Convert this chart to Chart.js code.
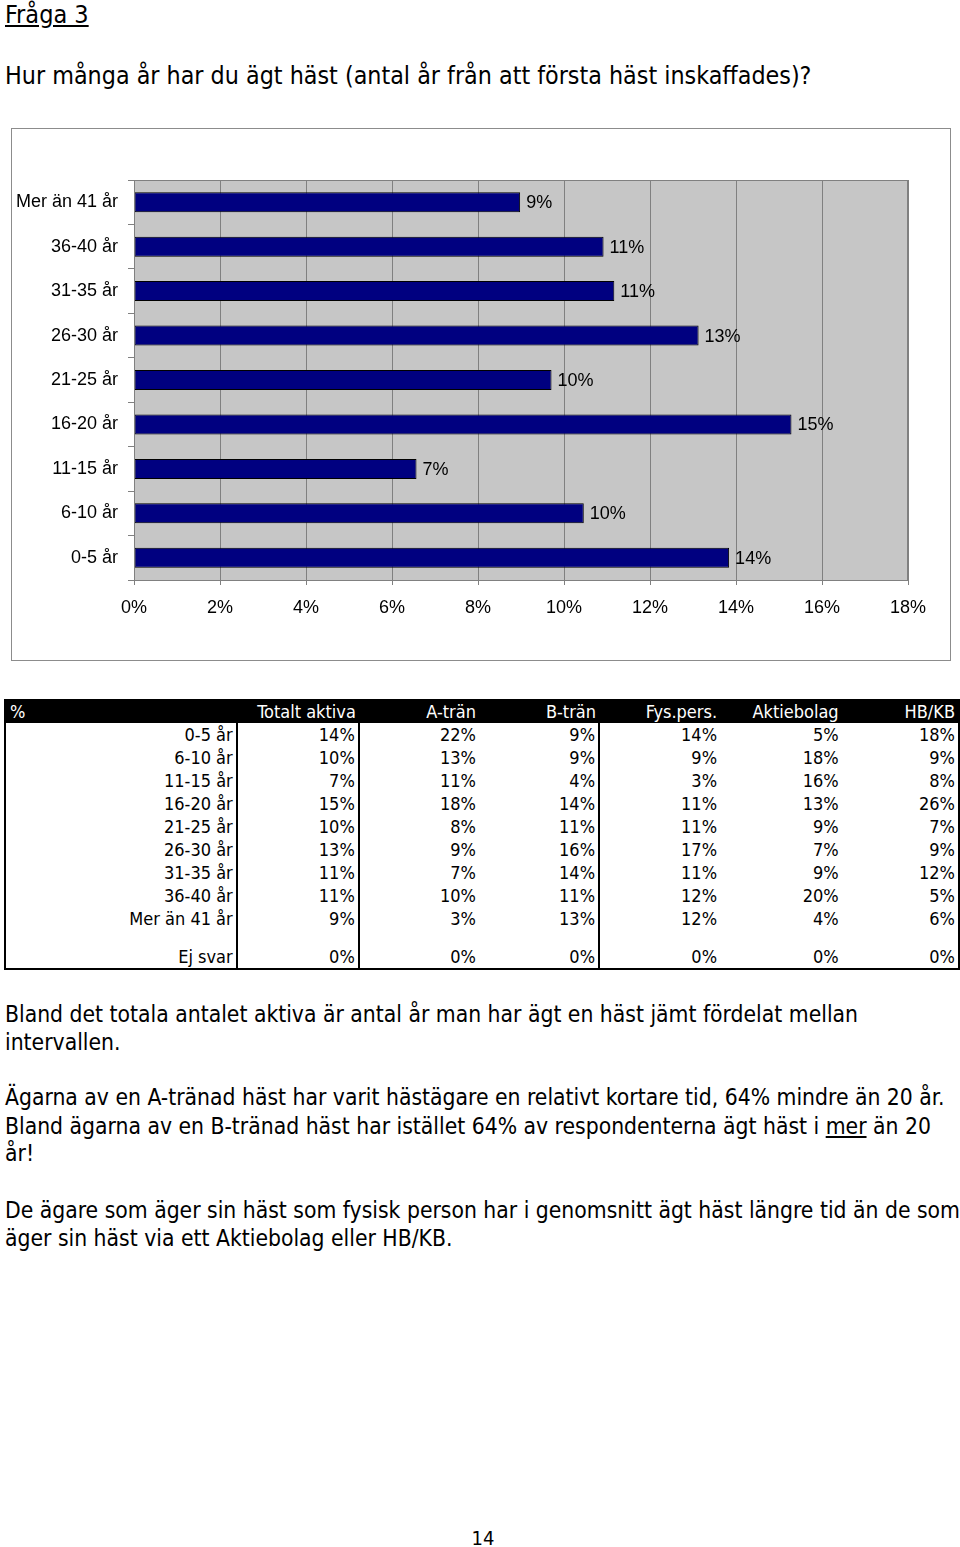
<!DOCTYPE html>
<html>
<head>
<meta charset="utf-8">
<script src="https://cdn.jsdelivr.net/npm/chart.js@4"></script>
<style>
    body { margin: 0; background: #fff; width: 960px; height: 1547px; position: relative; overflow: hidden;
           font-family: "DejaVu Sans Condensed", "DejaVu Sans", sans-serif; font-stretch: condensed; color: #000; }
    .line { position: absolute; left: 5px; white-space: nowrap; line-height: 28px; }
    .title { top: 1px; font-size: 25px; text-decoration: underline; }
    .question { top: 62px; font-size: 24.8px; }
    .para { font-size: 22.7px; }
    #chartBox { position: absolute; left: 11px; top: 128px; width: 940px; height: 533px;
                border: 1px solid #8c8c8c; box-sizing: border-box; }
    #dataTable { position: absolute; left: 4px; top: 699px; border-collapse: collapse; font-size: 18px;
                 border: 2px solid #000; }
    #dataTable td { padding: 0 3px 0 0; text-align: right; height: 23px; line-height: 23px; white-space: nowrap; }
    #dataTable tr.head td { background: #000; color: #fff; height: 22px; line-height: 22px; }
    #dataTable tr.head td.first { text-align: left; padding-left: 4px; }
    #dataTable tr.gap td { height: 15px; line-height: 15px; }
    #dataTable td.sep { border-right: 2px solid #000; }
    .pageno { position: absolute; top: 1524px; left: 443px; width: 80px; text-align: center;
              font-size: 20px; line-height: 28px; }
</style>
</head>
<body>
<div class="line title">Fråga 3</div>
<div class="line question">Hur många år har du ägt häst (antal år från att första häst inskaffades)?</div>

<div id="chartBox"><canvas id="ageChart"></canvas></div>

<table id="dataTable"></table>

<div class="line para" style="top:1000px">Bland det totala antalet aktiva är antal år man har ägt en häst jämt fördelat mellan</div>
<div class="line para" style="top:1028px">intervallen.</div>
<div class="line para" style="top:1083px">Ägarna av en A-tränad häst har varit hästägare en relativt kortare tid, 64% mindre än 20 år.</div>
<div class="line para" style="top:1112px">Bland ägarna av en B-tränad häst har istället 64% av respondenterna ägt häst i <u>mer</u> än 20</div>
<div class="line para" style="top:1139px">år!</div>
<div class="line para" style="top:1196px">De ägare som äger sin häst som fysisk person har i genomsnitt ägt häst längre tid än de som</div>
<div class="line para" style="top:1224px">äger sin häst via ett Aktiebolag eller HB/KB.</div>

<div class="pageno">14</div>

<script>
// Chart data (Totalt aktiva)
const categories = ['0-5 år', '6-10 år', '11-15 år', '16-20 år', '21-25 år', '26-30 år', '31-35 år', '36-40 år', 'Mer än 41 år'];
const totaltAktiva = [13.84, 10.46, 6.57, 15.29, 9.71, 13.13, 11.17, 10.92, 8.98];
const xTicks = [0, 2, 4, 6, 8, 10, 12, 14, 16, 18];

// Table data
const tableHeaders = ['%', 'Totalt aktiva', 'A-trän', 'B-trän', 'Fys.pers.', 'Aktiebolag', 'HB/KB'];
const tableRows = ['0-5 år', '6-10 år', '11-15 år', '16-20 år', '21-25 år', '26-30 år', '31-35 år', '36-40 år', 'Mer än 41 år', 'Ej svar'];
const colTotalt = [14, 10, 7, 15, 10, 13, 11, 11, 9, 0];
const colATran = [22, 13, 11, 18, 8, 9, 7, 10, 3, 0];
const colBTran = [9, 9, 4, 14, 11, 16, 14, 11, 13, 0];
const colFysPers = [14, 9, 3, 11, 11, 17, 11, 12, 12, 0];
const colAktiebolag = [5, 18, 16, 13, 9, 7, 9, 20, 4, 0];
const colHBKB = [18, 9, 8, 26, 7, 9, 12, 5, 6, 0];

document.addEventListener('DOMContentLoaded', function() {
    // Build the table
    const table = document.getElementById('dataTable');
    const widths = [233, 120, 120, 120, 120, 120, 116];
    const sepCols = [0, 1, 3];
    let html = '<tr class="head">';
    tableHeaders.forEach(function(h, i) {
        html += '<td' + (i === 0 ? ' class="first"' : '') + ' style="width:' + (widths[i] - (i === 0 ? 4 : 0)) + 'px">' + h + '</td>';
    });
    html += '</tr>';
    const cols = [colTotalt, colATran, colBTran, colFysPers, colAktiebolag, colHBKB];
    tableRows.forEach(function(label, r) {
        if (label === 'Ej svar') {
            html += '<tr class="gap">';
            for (let c = 0; c < 7; c++) html += '<td' + (sepCols.indexOf(c) >= 0 ? ' class="sep"' : '') + '></td>';
            html += '</tr>';
        }
        html += '<tr><td class="sep">' + label + '</td>';
        cols.forEach(function(col, c) {
            html += '<td' + (sepCols.indexOf(c + 1) >= 0 ? ' class="sep"' : '') + '>' + col[r] + '%</td>';
        });
        html += '</tr>';
    });
    table.innerHTML = html;

    // Plot background + frame
    const plotFrame = {
        id: 'plotFrame',
        beforeDraw: function(chart) {
            const a = chart.chartArea;
            const ctx = chart.ctx;
            ctx.save();
            ctx.fillStyle = '#c6c6c6';
            ctx.fillRect(a.left, a.top, a.right - a.left, a.bottom - a.top);
            ctx.restore();
        },
        afterDraw: function(chart) {
            const a = chart.chartArea;
            const ctx = chart.ctx;
            ctx.save();
            ctx.strokeStyle = '#808080';
            ctx.lineWidth = 1;
            ctx.strokeRect(a.left + 0.5, a.top + 0.5, a.right - a.left - 1, a.bottom - a.top);
            ctx.restore();
        }
    };

    // Value labels to the right of bars
    const valueLabels = {
        id: 'valueLabels',
        afterDatasetsDraw: function(chart) {
            const ctx = chart.ctx;
            const meta = chart.getDatasetMeta(0);
            ctx.save();
            ctx.font = '18px "Liberation Sans", Arial, sans-serif';
            ctx.fillStyle = '#000';
            ctx.textBaseline = 'middle';
            ctx.textAlign = 'left';
            meta.data.forEach(function(bar, i) {
                ctx.fillText(Math.round(totaltAktiva[i]) + '%', bar.x + 6, bar.y + 1);
            });
            ctx.restore();
        }
    };

    const ctx = document.getElementById('ageChart').getContext('2d');
    const ageChart = new Chart(ctx, {
        type: 'bar',
        data: {
            labels: categories,
            datasets: [{
                label: 'Totalt aktiva',
                data: totaltAktiva,
                backgroundColor: '#000080',
                borderColor: '#000000',
                borderWidth: 1,
                borderSkipped: false,
                barPercentage: 0.45,
                categoryPercentage: 1.0
            }]
        },
        options: {
            indexAxis: 'y',
            responsive: true,
            maintainAspectRatio: false,
            animation: false,
            layout: {
                padding: { left: 0, top: 51, right: 42, bottom: 0 }
            },
            plugins: {
                legend: { display: false },
                tooltip: { enabled: false }
            },
            scales: {
                x: {
                    min: 0,
                    max: 18,
                    afterFit: function(scale) { scale.height = 80; },
                    afterBuildTicks: function(scale) {
                        scale.ticks = xTicks.map(function(v) { return { value: v }; });
                    },
                    ticks: {
                        color: '#000',
                        padding: 12,
                        maxRotation: 0,
                        font: { family: '"Liberation Sans", Arial, sans-serif', size: 18 },
                        callback: function(value) { return value + '%'; }
                    },
                    grid: {
                        color: '#808080',
                        lineWidth: 1,
                        tickLength: 5
                    },
                    border: { color: '#808080' }
                },
                y: {
                    reverse: true,
                    afterFit: function(scale) { scale.width = 122; },
                    ticks: {
                        color: '#000',
                        padding: 10,
                        font: { family: '"Liberation Sans", Arial, sans-serif', size: 18 }
                    },
                    grid: {
                        offset: true,
                        drawOnChartArea: false,
                        color: '#808080',
                        tickLength: 6
                    },
                    border: { color: '#808080' }
                }
            }
        },
        plugins: [plotFrame, valueLabels]
    });
});
</script>
</body>
</html>
